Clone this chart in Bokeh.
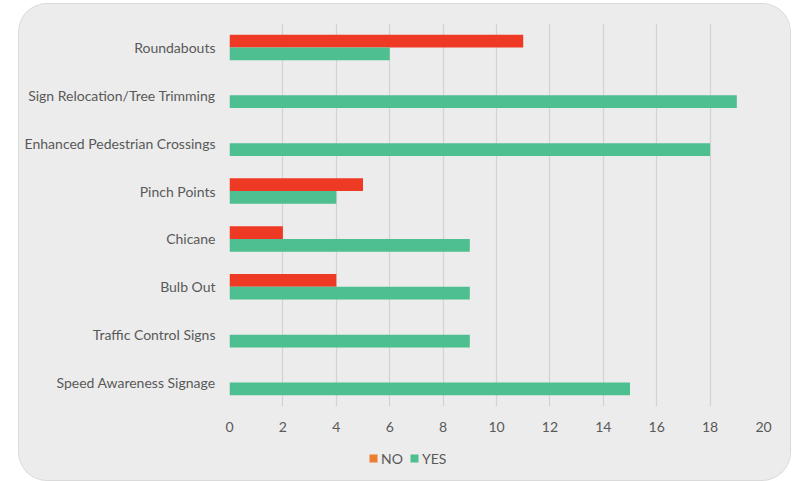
from bokeh.plotting import figure
from bokeh.layouts import column
from bokeh.models import ColumnDataSource, FactorRange, Range1d, Legend, LegendItem, FixedTicker
from bokeh.transform import dodge
from bokeh.embed import file_html
from bokeh.resources import INLINE

categories = ["Roundabouts", "Sign Relocation/Tree Trimming", "Enhanced Pedestrian Crossings",
              "Pinch Points", "Chicane", "Bulb Out", "Traffic Control Signs", "Speed Awareness Signage"]
no_values = [11, 0, 0, 5, 2, 4, 0, 0]
yes_values = [6, 19, 18, 4, 9, 9, 9, 15]
x_ticks = [0, 2, 4, 6, 8, 10, 12, 14, 16, 18, 20]
series_labels = ["NO", "YES"]

BAR_RED = "#EE3A24"
LEG_ORANGE = "#ED7D31"
GREEN = "#4DBF91"
TEXT = "#595959"
CARD = "#ECECEC"
FONT = "Lato"

src = ColumnDataSource(dict(cat=categories, no=no_values, yes=yes_values))

p = figure(width=771, height=436, y_range=FactorRange(factors=list(reversed(categories))),
           x_range=Range1d(0, 20), output_backend="svg", toolbar_location=None,
           min_border_left=210, min_border_right=27, min_border_top=19, min_border_bottom=34)
p.background_fill_color = CARD
p.border_fill_color = CARD
p.outline_line_color = None

p.hbar(y=dodge("cat", 0.133, range=p.y_range), left=0, right="no", height=0.265,
       source=src, fill_color=BAR_RED, line_color=None)
p.hbar(y=dodge("cat", -0.133, range=p.y_range), left=0, right="yes", height=0.265,
       source=src, fill_color=GREEN, line_color=None)

p.xaxis.ticker = FixedTicker(ticks=x_ticks)
p.xaxis.axis_line_color = None
p.xaxis.major_tick_line_color = None
p.xaxis.minor_tick_line_color = None
p.xaxis.major_label_standoff = 9
p.xaxis.major_label_text_font = FONT
p.xaxis.major_label_text_font_size = "14px"
p.xaxis.major_label_text_color = TEXT

p.yaxis.axis_line_color = None
p.yaxis.major_tick_line_color = None
p.yaxis.major_tick_out = 0
p.yaxis.major_tick_in = 0
p.yaxis.major_label_standoff = 14
p.yaxis.major_label_text_font = FONT
p.yaxis.major_label_text_font_size = "14px"
p.yaxis.major_label_text_color = TEXT

p.ygrid.grid_line_color = None
p.xgrid.grid_line_color = "#D3D3D3"
p.xgrid.grid_line_width = 1.2

# legend strip (its frame is aligned with the main plot's frame by the column layout)
lf = figure(width=771, height=40, x_range=Range1d(0, 1), y_range=Range1d(0, 1),
            x_axis_type=None, y_axis_type=None, output_backend="svg", toolbar_location=None,
            min_border_left=0, min_border_right=0, min_border_top=0, min_border_bottom=0)
lf.background_fill_color = CARD
lf.border_fill_color = CARD
lf.outline_line_color = None
lf.grid.grid_line_color = None
# zero-size swatch renderers (only used for the legend glyphs)
l_no = lf.hbar(y=[0], left=[0], right=[0], height=0, fill_color=LEG_ORANGE, line_color=None)
l_yes = lf.hbar(y=[0], left=[0], right=[0], height=0, fill_color=GREEN, line_color=None)
legend = Legend(items=[LegendItem(label=series_labels[0], renderers=[l_no]),
                       LegendItem(label=series_labels[1], renderers=[l_yes])],
                location=(139, 12), orientation="horizontal",
                background_fill_alpha=0, border_line_color=None, padding=0, margin=0,
                glyph_width=10, glyph_height=10, label_standoff=3, spacing=6,
                label_text_font=FONT, label_text_font_size="14px", label_text_color=TEXT,
                label_height=20)
lf.add_layout(legend, "center")

card = column(p, lf, spacing=0)
card.margin = (4, 7, 1, 19)
card.styles = {"border-radius": "28px", "overflow": "hidden", "background-color": CARD,
               "box-shadow": "0 0 0 1px #DADADA"}

open("out.html", "w").write(file_html(card, INLINE))
